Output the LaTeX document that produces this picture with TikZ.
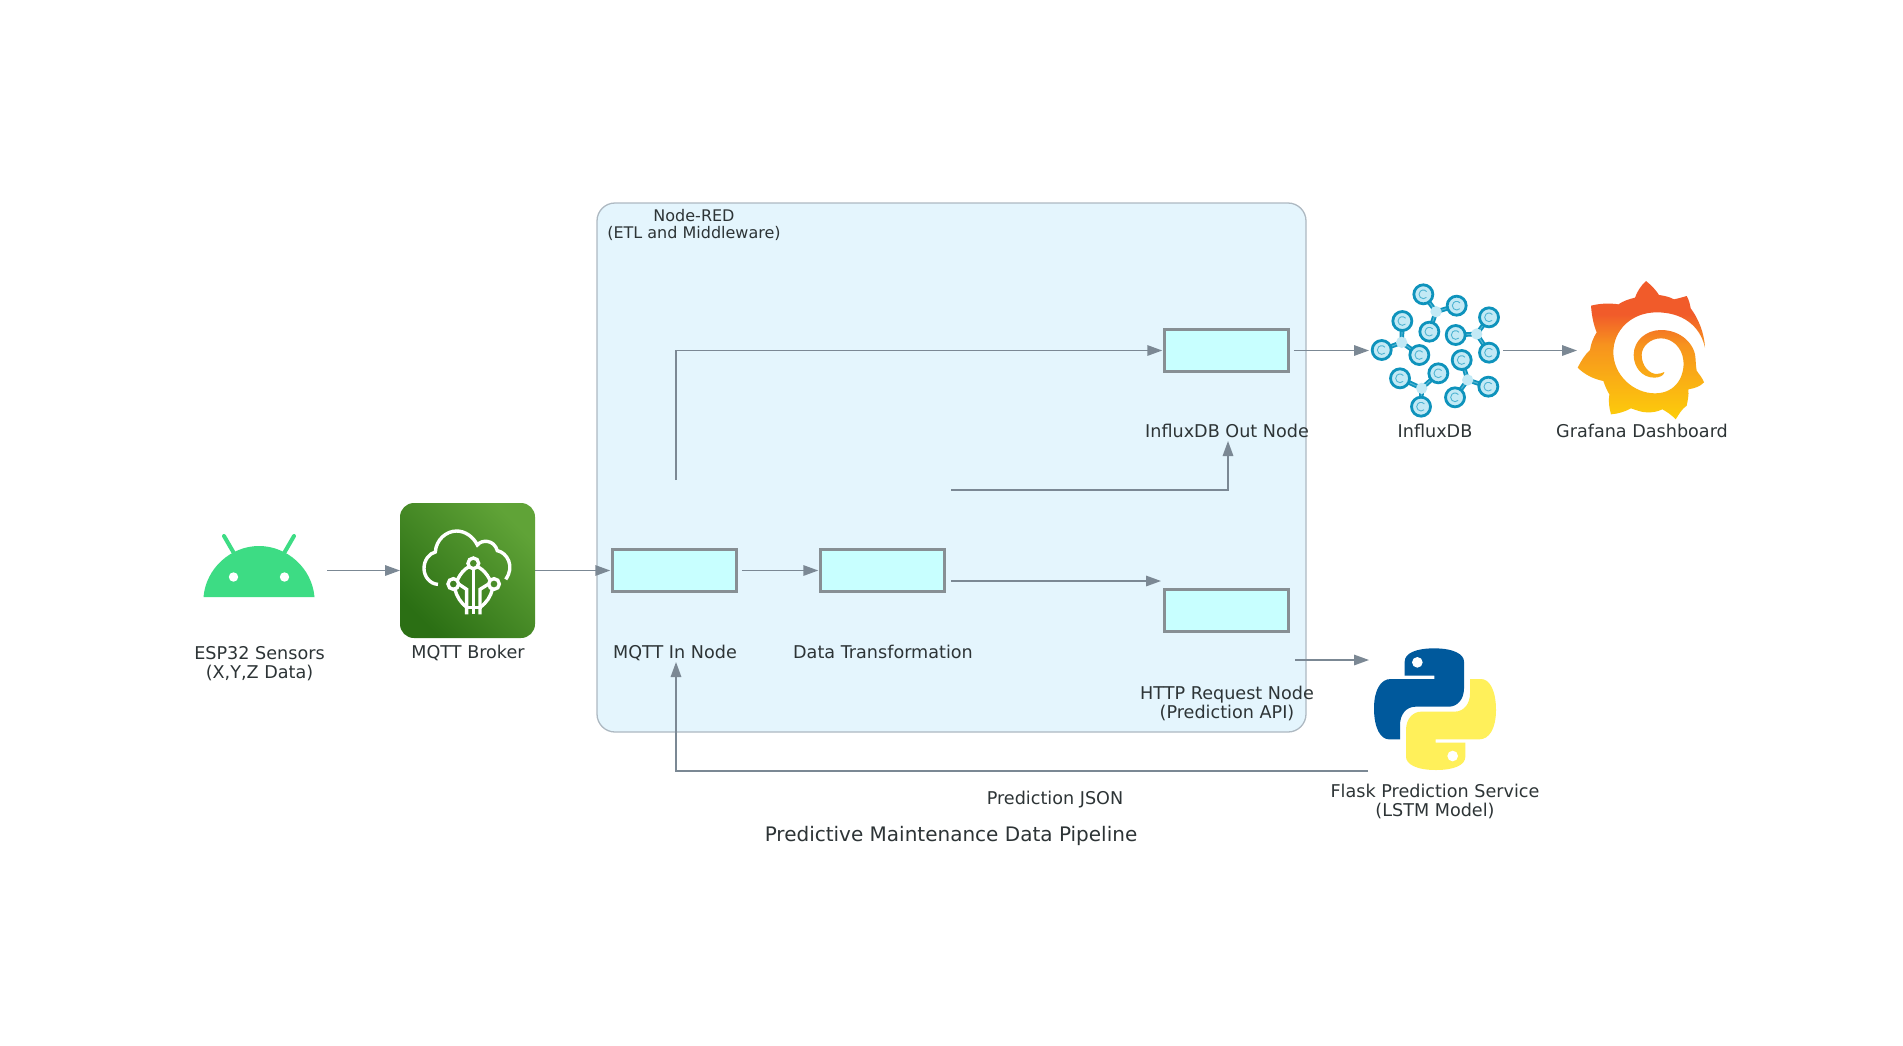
\documentclass[tikz,border=0pt]{standalone}
\usepackage{fontspec}
\setmainfont{DejaVu Sans}
\usetikzlibrary{arrows.meta}
\definecolor{inktext}{HTML}{2D3436}
\definecolor{flowcol}{HTML}{7B8894}
\definecolor{clusterfill}{HTML}{E4F5FD}
\definecolor{clusterline}{HTML}{AEB9C2}
\definecolor{boxfill}{HTML}{C8FFFF}
\definecolor{boxline}{HTML}{878F94}
\definecolor{droid}{HTML}{3DDC84}
\definecolor{brokerlo}{HTML}{2B6F14}
\definecolor{brokerhi}{HTML}{60A337}
\definecolor{influxdark}{HTML}{0E93BC}
\definecolor{influxmid}{HTML}{4FB4D2}
\definecolor{influxlight}{HTML}{C2E9F5}
\definecolor{pyblue}{HTML}{00599C}
\definecolor{pyyellow}{HTML}{FFF05A}
\definecolor{grafhi}{HTML}{F15B2A}
\definecolor{grafmid}{HTML}{F7931E}
\definecolor{graflo}{HTML}{FDCE0A}
\pgfdeclareverticalshading{grafshade}{100bp}{color(0bp)=(graflo); color(25bp)=(graflo); color(52bp)=(grafmid); color(63bp)=(grafhi); color(100bp)=(grafhi)}
\tikzset{
  flow/.style={draw=flowcol,line width=1.6pt,-{Triangle[length=15pt,width=10.5pt]}},
  tobox/.style={shorten >=2pt},
  frombox/.style={shorten <=5pt},
  pipebox/.style={draw=boxline,fill=boxfill,line width=2.6pt,minimum width=124.5pt,minimum height=42.5pt,inner sep=0pt,outer sep=0pt},
  icon/.style={inner sep=0pt,outer sep=0pt},
  lbl/.style={text=inktext,font=\fontsize{17.6}{19}\selectfont,align=center,inner sep=0pt,anchor=base},
  clusterlbl/.style={lbl,font=\fontsize{16}{16.7}\selectfont},
  titlelbl/.style={lbl,font=\fontsize{20}{22}\selectfont},
  zoomed/.style={x=.33333pt,y=-.33333pt}
}
\newcommand{\influxring}[2]{%
  \draw[influxdark,line width=2.8pt,fill=influxlight] (#1,#2) circle[radius=28.5];
  \draw[influxmid,line width=.9pt] (#1,#2) ++(45:13) arc[start angle=45,end angle=320,radius=13];
}
\newcommand{\influxmol}[8]{%
  \draw[influxdark,line width=4.6pt] (#1,#2) -- (#3,#4) (#1,#2) -- (#5,#6) (#1,#2) -- (#7,#8);
  \draw[influxmid,line width=1.1pt] (#1,#2) -- (#3,#4) (#1,#2) -- (#5,#6) (#1,#2) -- (#7,#8);
  \fill[influxlight] (#1,#2) circle[radius=17];
  \influxring{#3}{#4}\influxring{#5}{#6}\influxring{#7}{#8}
}
\begin{document}
\begin{tikzpicture}[x=1pt,y=-1pt]
\useasboundingbox (0,0) rectangle (1903,1045);
\fill[white] (0,0) rectangle (1903,1045);

% cluster
\draw[clusterline,fill=clusterfill,line width=1.3pt,rounded corners=18pt] (597,203) rectangle (1306,732);

% boxes
\node[pipebox] (mqttin) at (674.5,570.5) {};
\node[pipebox] (transform) at (882.5,570.5) {};
\node[pipebox] (influxout) at (1226.5,350.5) {};
\node[pipebox] (httpreq) at (1226.5,610.5) {};

% invisible icon holders
\node[icon,minimum width=136pt,minimum height=70pt] (android) at (259,570.5) {};
\node[icon,minimum width=135pt,minimum height=135pt] (broker) at (467.5,570.5) {};
\node[icon,minimum width=134pt,minimum height=134pt] (influx) at (1436,350.5) {};
\node[icon,minimum width=138pt,minimum height=138pt] (grafana) at (1646,350.5) {};
\node[icon,minimum width=132pt,minimum height=125pt] (flask) at (1441,708) {};

% free ends
\coordinate (mqttup) at (676,480);
\coordinate (dtup) at (951,490);
\coordinate (influxin) at (1228,441);
\coordinate (dtout) at (951,581);
\coordinate (httpin) at (1161,581);
\coordinate (httpout) at (1295,660);
\coordinate (flaskin) at (1369,660);
\coordinate (flaskback) at (1368,771);
\coordinate (mqttback) at (676,662);

% connectors
\draw[flow] (android.east) -- (broker.west);
\draw[flow,tobox] (broker.east) -- (mqttin.west);
\draw[flow,tobox,frombox] (mqttin.east) -- (transform.west);
\draw[flow] (dtout) -- (httpin);
\draw[flow] (dtup) -| (influxin);
\draw[flow,tobox] (mqttup) |- (influxout.west);
\draw[flow,frombox] (influxout.east) -- (influx.west);
\draw[flow] (influx.east) -- (grafana.west);
\draw[flow] (httpout) -- (flaskin);
\draw[flow] (flaskback) -| (mqttback);

% android
\fill[droid] (203.5,597) .. controls (206,568) and (231,546) .. (259,546) .. controls (287,546) and (312,568) .. (314.5,597) -- cycle;
\draw[droid,line width=4pt,line cap=round] (224,536) -- (235,555);
\draw[droid,line width=4pt,line cap=round] (294,536) -- (283,555);
\fill[white] (233.5,577) circle[radius=4.7];
\fill[white] (284.5,577) circle[radius=4.7];

% broker icon
\shade[rounded corners=14pt,bottom color=brokerlo,top color=brokerhi,shading angle=-45] (400,503) rectangle (535,638);
\begin{scope}[shift={(420,520)},zoomed,white,line width=3.4pt]
  \draw (54,193) .. controls (30,192) and (12,170) .. (12,145) .. controls (12,120) and (28,100) .. (46,96) .. controls (48,60) and (78,33) .. (110,33) .. controls (135,33) and (160,50) .. (172,75) .. controls (185,58) and (222,58) .. (232,92) .. controls (262,98) and (285,140) .. (257,178);
  \draw (160,130) circle[radius=16];
  \draw (100,192) circle[radius=16];
  \draw (222,192) circle[radius=16];
  \draw (147,140) .. controls (132,148) and (122,160) .. (112,180);
  \draw (173,140) .. controls (188,148) and (200,160) .. (210,180);
  \draw (105,207) .. controls (110,230) and (122,248) .. (140,262);
  \draw (217,207) .. controls (212,230) and (200,248) .. (180,262);
  \draw (160,146) -- (160,283);
  \draw (116,192) -- (140,208) -- (140,283);
  \draw (206,192) -- (180,208) -- (180,283);
  \draw (134,262) -- (186,262);
\end{scope}

% influx icon
\begin{scope}[shift={(1370,280)},zoomed]
  \influxmol{198}{95}{160}{43}{260}{77}{178}{155}
  \influxmol{95}{187}{97}{123}{35}{210}{148}{225}
  \influxmol{320}{162}{357}{112}{257}{165}{357}{218}
  \influxmol{155}{325}{90}{295}{205}{280}{153}{380}
  \influxmol{293}{300}{275}{240}{355}{320}{255}{352}
\end{scope}

% grafana icon
\begin{scope}[shift={(1575,275)},zoomed]
  \shade[shading=grafshade]
    (390,218) .. controls (375,150) and (320,112) .. (245,112)
    .. controls (170,112) and (115,165) .. (115,232)
    .. controls (115,300) and (175,355) .. (240,355)
    .. controls (305,355) and (330,300) .. (325,255)
    .. controls (320,215) and (290,190) .. (258,190)
    .. controls (225,190) and (200,215) .. (200,240)
    .. controls (200,275) and (225,297) .. (245,297)
    .. controls (255,297) and (262,293) .. (268,291)
    .. controls (268,300) and (255,308) .. (238,308)
    .. controls (200,308) and (176,275) .. (176,240)
    .. controls (176,195) and (215,165) .. (258,165)
    .. controls (320,165) and (362,210) .. (362,255)
    .. controls (362,268) and (364,280) .. (365,287)
    .. controls (372,298) and (382,308) .. (387,322)
    .. controls (375,335) and (358,340) .. (340,343)
    .. controls (342,360) and (338,378) .. (335,392)
    .. controls (320,402) and (312,418) .. (302,433)
    .. controls (290,420) and (275,410) .. (262,403)
    .. controls (248,410) and (230,413) .. (215,412)
    .. controls (200,412) and (182,405) .. (168,400)
    .. controls (150,410) and (130,416) .. (108,418)
    .. controls (102,398) and (100,378) .. (103,358)
    .. controls (95,345) and (90,332) .. (85,318)
    .. controls (55,312) and (28,298) .. (8,278)
    .. controls (18,258) and (30,238) .. (45,225)
    .. controls (48,205) and (55,188) .. (65,172)
    .. controls (55,148) and (50,120) .. (48,92)
    .. controls (75,85) and (105,84) .. (130,88)
    .. controls (145,78) and (162,72) .. (180,68)
    .. controls (187,48) and (198,32) .. (213,18)
    .. controls (228,30) and (242,44) .. (252,60)
    .. controls (268,62) and (284,66) .. (297,73)
    .. controls (310,70) and (322,67) .. (335,63)
    .. controls (342,75) and (345,88) .. (347,100)
    .. controls (370,130) and (388,175) .. (390,218) -- cycle;
\end{scope}

% python icon
\begin{scope}[shift={(1374,645)},zoomed]
  \fill[pyblue] (92,92) -- (92,50) .. controls (92,25) and (125,10) .. (180,10) .. controls (240,10) and (270,28) .. (270,50) -- (270,130) .. controls (270,165) and (248,185) .. (225,185) -- (125,185) .. controls (95,185) and (78,210) .. (78,240) -- (78,283) -- (45,283) .. controls (20,283) and (0,250) .. (0,190) .. controls (0,135) and (20,102) .. (50,102) -- (181,102) -- (181,92) -- cycle;
  \fill[white] (130,52) circle[radius=16];
  \fill[pyyellow] (274,293) -- (274,335) .. controls (274,360) and (241,375) .. (186,375) .. controls (126,375) and (96,357) .. (96,335) -- (96,255) .. controls (96,220) and (118,200) .. (141,200) -- (241,200) .. controls (271,200) and (288,175) .. (288,145) -- (288,102) -- (321,102) .. controls (346,102) and (366,135) .. (366,195) .. controls (366,250) and (346,283) .. (316,283) -- (185,283) -- (185,293) -- cycle;
  \fill[white] (236,333) circle[radius=16];
\end{scope}

% labels (a multi-line node sits on the baseline of its last line)
\node[clusterlbl] (tnodered) at (694,238.5) {Node-RED\\(ETL and Middleware)};
\node[lbl] (tesp) at (259.5,678) {ESP32 Sensors\\(X,Y,Z Data)};
\node[lbl] (tbroker) at (468,658.5) {MQTT Broker};
\node[lbl] (tmqttin) at (675,658.5) {MQTT In Node};
\node[lbl] (tdt) at (883,658.5) {Data Transformation};
\node[lbl] (tinfluxout) at (1227,437.5) {InfluxDB Out Node};
\node[lbl] (thttp) at (1227,718) {HTTP Request Node\\(Prediction API)};
\node[lbl] (tinflux) at (1435,437.5) {InfluxDB};
\node[lbl] (tgraf) at (1642,437.5) {Grafana Dashboard};
\node[lbl] (tflask) at (1435,816.5) {Flask Prediction Service\\(LSTM Model)};
\node[lbl] (tjson) at (1055,804) {Prediction JSON};
\node[titlelbl] (ttitle) at (951,841.5) {Predictive Maintenance Data Pipeline};
\end{tikzpicture}
\end{document}
